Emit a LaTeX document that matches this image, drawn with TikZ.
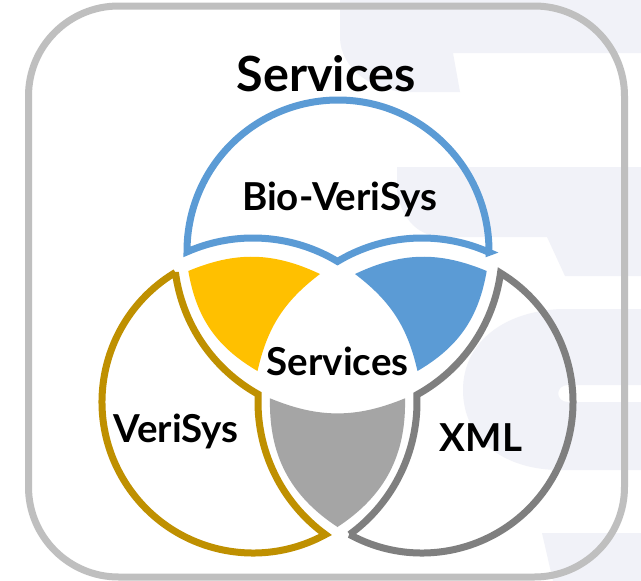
\documentclass[tikz,border=0pt]{standalone}
\usepackage{fontspec}
\setmainfont{Lato}
\definecolor{cblue}{HTML}{5B9BD5}
\definecolor{cgold}{HTML}{FFC000}
\definecolor{cgoldline}{HTML}{BF9000}
\definecolor{cgray}{HTML}{A5A5A5}
\definecolor{cgrayline}{HTML}{7F7F7F}
\definecolor{cframe}{HTML}{BFBFBF}
\definecolor{cwm}{HTML}{F1F2F8}
% circle-circle intersection: centre1 (#1,#2) radius #3, centre2 (#4,#5) radius #6, side #7, name #8
\newcommand\ccint[8]{%
  \edef\ciD{\fpeval{sqrt(((#4)-(#1))^2+((#5)-(#2))^2)}}%
  \edef\cia{\fpeval{((#3)^2-(#6)^2+(\ciD)^2)/(2*\ciD)}}%
  \edef\cih{\fpeval{sqrt((#3)^2-(\cia)^2)}}%
  \edef\cipx{\fpeval{(#1)+\cia*((#4)-(#1))/\ciD-(#7)*\cih*((#5)-(#2))/\ciD}}%
  \edef\cipy{\fpeval{(#2)+\cia*((#5)-(#2))/\ciD+(#7)*\cih*((#4)-(#1))/\ciD}}%
  \edef\ciA{\fpeval{round(atand(\cipy-(#2),\cipx-(#1)),3)}}%
  \edef\ciB{\fpeval{round(atand(\cipy-(#5),\cipx-(#4)),3)}}%
  \expandafter\edef\csname #8A\endcsname{\fpeval{\ciA<0 ? \ciA+360 : \ciA}}%
  \expandafter\edef\csname #8B\endcsname{\fpeval{\ciB<0 ? \ciB+360 : \ciB}}%
}
% geometry (1 unit = 1 px of the reference, y negative downwards)
\def\TX{338}\def\TY{-251}
\def\LX{253}\def\LY{-402}
\def\RX{422}\def\RY{-402}
\def\Rr{151}
\def\off{13}
\edef\Rd{\fpeval{\Rr+\off}}
% outline of the pure top region
\ccint{\TX}{\TY}{\Rr}{\RX}{\RY}{\Rd}{1}{tPa}
\ccint{\TX}{\TY}{\Rr}{\LX}{\LY}{\Rd}{-1}{tPb}
\ccint{\LX}{\LY}{\Rd}{\RX}{\RY}{\Rd}{1}{tQq}
% outline of the pure left region
\ccint{\LX}{\LY}{\Rr}{\TX}{\TY}{\Rd}{1}{lAa}
\ccint{\LX}{\LY}{\Rr}{\RX}{\RY}{\Rd}{-1}{lAb}
\ccint{\TX}{\TY}{\Rd}{\RX}{\RY}{\Rd}{-1}{lBb}
% outline of the pure right region
\ccint{\RX}{\RY}{\Rr}{\TX}{\TY}{\Rd}{-1}{rCa}
\ccint{\RX}{\RY}{\Rr}{\LX}{\LY}{\Rd}{1}{rCb}
\ccint{\TX}{\TY}{\Rd}{\LX}{\LY}{\Rd}{1}{rEe}
\begin{document}
\begin{tikzpicture}[x=1pt,y=1pt,
  outline/.style={line width=7pt, line join=miter, miter limit=3},
  lbl/.style={font=\fontsize{38.5}{40}\selectfont\bfseries, anchor=base, inner sep=0pt},
  ttl/.style={font=\fontsize{48.5}{50}\selectfont\bfseries, anchor=base, inner sep=0pt},
  wm/.style={fill=cwm, draw=none}]
\useasboundingbox (0,0) rectangle (641,-581);
\fill[white] (0,0) rectangle (641,-581);
% faint background watermark
\fill[wm] (340,0) -- (641,0) -- (641,-53) -- (453,-53) -- (460,-92) -- (410,-92)
  .. controls (372,-92) and (340,-68) .. (340,-37) -- cycle;
\fill[wm] (397,-167) -- (641,-167) -- (641,-276) -- (565,-276) -- (547,-237) -- (440,-237)
  .. controls (415,-235) and (400,-215) .. (397,-190) -- cycle;
\fill[wm] (641,-309) -- (560,-309) .. controls (500,-312) and (463,-345) .. (463,-390)
  .. controls (463,-440) and (505,-470) .. (560,-470) -- (641,-470) -- (641,-402)
  -- (568,-402) .. controls (555,-402) and (555,-385) .. (568,-385) -- (641,-385) -- cycle;
\fill[wm] (542,-533) -- (641,-533) -- (641,-581) -- (553,-581) -- cycle;
% frame
\draw[cframe, line width=7pt, rounded corners=90pt] (28.5,-6) rectangle (624.5,-577);
% centres
\coordinate (cT) at (\TX,\TY);
\coordinate (cL) at (\LX,\LY);
\coordinate (cR) at (\RX,\RY);
% lens fills
\coordinate (y1) at (188.3,-271);
\coordinate (y2) at (320,-274);
\coordinate (y3) at (257.5,-371);
\fill[cgold] (y1) to[bend left=24] (y2) to[bend right=20] (y3) to[bend left=25] (y1) -- cycle;
\coordinate (b1) at (486.7,-271);
\coordinate (b2) at (355,-274);
\coordinate (b3) at (417.5,-371);
\fill[cblue] (b1) to[bend right=24] (b2) to[bend left=20] (b3) to[bend right=25] (b1) -- cycle;
\coordinate (g1) at (270,-398.3);
\coordinate (g2) at (405,-398.3);
\coordinate (g3) at (337.5,-527);
\fill[cgray] (g1) to[bend right=22.5] (g2) to[bend left=29] (g3) to[bend left=29] (g1) -- cycle;
% outlines of the pure regions
\draw[outline, cblue] (cT) ++(\tPaA-360:\Rr) arc[start angle=\tPaA-360, end angle=\tPbA, radius=\Rr]
  arc[start angle=\tPbB, end angle=\tQqA, radius=\Rd]
  arc[start angle=\tQqB, end angle=\tPaB, radius=\Rd] -- cycle;
\draw[outline, cgoldline] (cL) ++(\lAaA:\Rr) arc[start angle=\lAaA, end angle=\lAbA, radius=\Rr]
  arc[start angle=\lAbB, end angle=\lBbB, radius=\Rd]
  arc[start angle=\lBbA, end angle=\lAaB, radius=\Rd] -- cycle;
\draw[outline, cgrayline] (cR) ++(\rCbA:\Rr) arc[start angle=\rCbA, end angle=\rCaA+360, radius=\Rr]
  arc[start angle=\rCaB, end angle=\rEeA, radius=\Rd]
  arc[start angle=\rEeB, end angle=\rCbB-360, radius=\Rd] -- cycle;
% texts
\node[ttl] (title) at (326,-91) {Services};
\node[lbl] (bio) at (339.7,-210) {Bio-VeriSys};
\node[lbl] (mid) at (337.7,-375) {Services};
\node[lbl] (veri) at (176,-442.6) {VeriSys};
\node[lbl] (xml) at (481,-451) {XML};
\end{tikzpicture}
\end{document}
